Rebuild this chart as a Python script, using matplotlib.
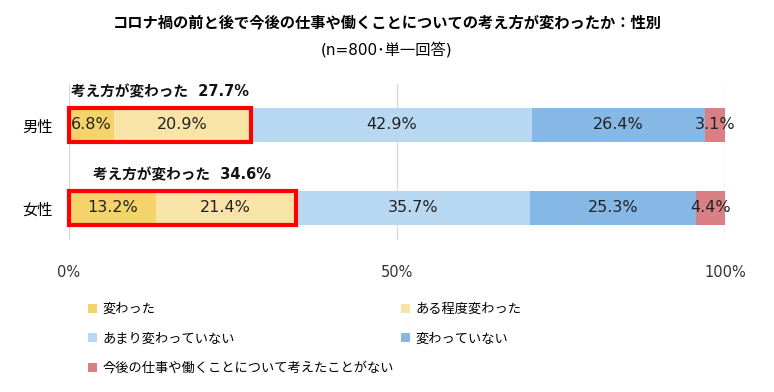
import matplotlib
matplotlib.use("Agg")
import matplotlib.pyplot as plt
from matplotlib.patches import Rectangle, Patch
import numpy as np

plt.rcParams['font.family'] = ['Noto Sans CJK JP', 'DejaVu Sans']
NUMFONT = ['DejaVu Sans', 'Noto Sans CJK JP']

categories = ["男性", "女性"]
series_names = ["変わった", "ある程度変わった", "あまり変わっていない", "変わっていない",
                "今後の仕事や働くことについて考えたことがない"]
values = {
    "変わった": [6.8, 13.2],
    "ある程度変わった": [20.9, 21.4],
    "あまり変わっていない": [42.9, 35.7],
    "変わっていない": [26.4, 25.3],
    "今後の仕事や働くことについて考えたことがない": [3.1, 4.4],
}
changed_totals = [27.7, 34.6]
colors = ["#F5D36B", "#F9E4A7", "#B8D7F1", "#85B8E5", "#D98087"]
xticks = [0, 50, 100]
xticklabels = ["0%", "50%", "100%"]

fig = plt.figure(figsize=(7.74, 3.92), dpi=100)
ax = fig.add_axes([69/774, 1-240/392, 656/774, 156/392])

y = np.arange(len(categories))
h = 0.4
left = np.zeros(len(categories))
handles = []
for name, c in zip(series_names, colors):
    vals = np.array(values[name])
    ax.barh(y, vals, left=left, height=h, color=c, edgecolor='none', zorder=2)
    for yi, v, l in zip(y, vals, left):
        ax.text(l + v/2, yi, f"{v:.1f}%", ha='center', va='center', fontsize=11.5,
                color='#222222', zorder=4, family=NUMFONT)
    handles.append(Patch(facecolor=c, edgecolor='none', label=name))
    left += vals

for yi, tot in zip(y, changed_totals):
    ax.add_patch(Rectangle((0, yi - h/2), tot, h, fill=False, edgecolor='#FF0000', lw=3,
                           zorder=5, clip_on=False))
    ax.text(tot/2, yi - h/2 - 0.2, f"考え方が変わった  {tot:.1f}%", ha='center', va='center',
            fontsize=10.5, fontweight='bold', color='#111111', family=NUMFONT)

ax.set_xlim(0, 100)
ax.set_ylim(1.386, -0.494)
ax.set_yticks(y)
ax.set_yticklabels(categories, fontsize=11)
ax.set_xticks(xticks)
ax.set_xticklabels(xticklabels, fontsize=10.5, color='#333333', family=NUMFONT)
ax.tick_params(length=0)
ax.tick_params(axis='x', pad=18)
ax.tick_params(axis='y', pad=12)
for s in ax.spines.values():
    s.set_visible(False)
ax.grid(axis='x', color='#D9D9D9', lw=1, zorder=0)
ax.set_axisbelow(True)

fig.text(0.5, 1-22/392, "コロナ禍の前と後で今後の仕事や働くことについての考え方が変わったか：性別",
         ha='center', va='center', fontsize=11, fontweight='bold')
fig.text(0.5, 1-50/392, "(n=800･単一回答)", ha='center', va='center', fontsize=11, family=NUMFONT)

order = [0, 2, 4, 1, 3]
leg = fig.legend([handles[i] for i in order], [series_names[i] for i in order], ncol=2,
                 loc='upper left', bbox_to_anchor=(88/774, 1-303/392), frameon=False,
                 fontsize=9.5, handlelength=0.7, handleheight=0.7, handletextpad=0.4,
                 columnspacing=0.5, labelspacing=1.25, borderaxespad=0, borderpad=0)

fig.savefig("out.png", dpi=100)
